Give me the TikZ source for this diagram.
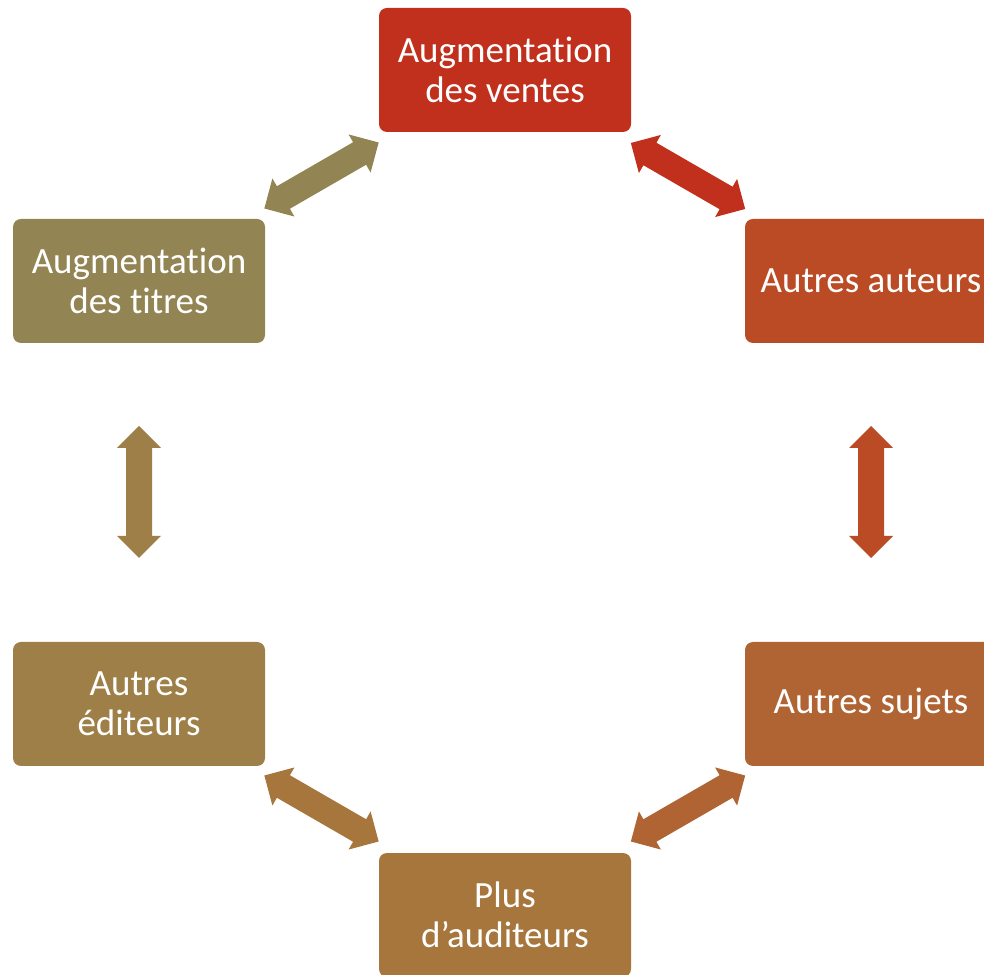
\documentclass[tikz,border=0pt]{standalone}
\usepackage{fontspec}
\setmainfont[Ligatures=NoCommon]{Carlito}
\definecolor{cA}{HTML}{C0301C}
\definecolor{cB}{HTML}{BA4B25}
\definecolor{cC}{HTML}{B06433}
\definecolor{cD}{HTML}{A6763C}
\definecolor{cE}{HTML}{9D7F47}
\definecolor{cF}{HTML}{928553}
\tikzset{
  box/.style={rounded corners=8pt, minimum width=252pt, minimum height=124pt,
    inner sep=0pt, align=center, text=white,
    font=\fontsize{37}{40}\selectfont},
  dblarr/.pic={\fill[pic actions] (-66,0) -- (-44,22) -- (-44,13) -- (44,13) -- (44,22)
     -- (66,0) -- (44,-22) -- (44,-13) -- (-44,-13) -- (-44,-22) -- cycle;}
}
\begin{document}
\begin{tikzpicture}[x=1pt,y=1pt]
\useasboundingbox (0,0) rectangle (984,974);
\clip (0,0) rectangle (984,974);
\node[box, fill=cA] (ventes) at (505,904) {Augmentation\\des ventes};
\node[box, fill=cB] (auteurs) at (871,693) {Autres auteurs};
\node[box, fill=cC] (sujets) at (871,270) {Autres sujets};
\node[box, fill=cD] (auditeurs) at (505,59) {Plus\\d’auditeurs};
\node[box, fill=cE] (editeurs) at (139,270) {Autres\\éditeurs};
\node[box, fill=cF] (titres) at (139,693) {Augmentation\\des titres};
\pic[fill=cF, rotate=30] at (321.5,798.5) {dblarr};
\pic[fill=cA, rotate=-30] at (688,798) {dblarr};
\pic[fill=cB, rotate=90] at (871,482) {dblarr};
\pic[fill=cE, rotate=90] at (139,482) {dblarr};
\pic[fill=cD, rotate=-30] at (321.5,165.5) {dblarr};
\pic[fill=cC, rotate=30] at (688,165.5) {dblarr};
\end{tikzpicture}
\end{document}
